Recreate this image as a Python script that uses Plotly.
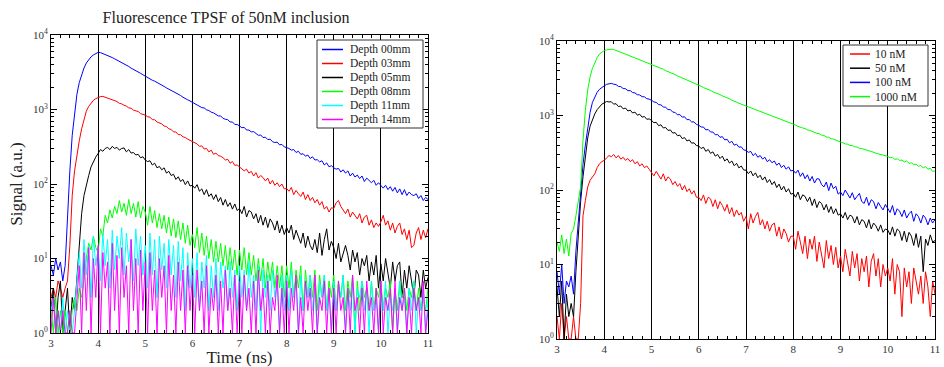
import plotly.graph_objects as go

# ---------------- data ----------------
# time axis: 3.00 .. 11.00 ns, 0.05 ns steps
time_ns = [round(3 + 0.05 * i, 2) for i in range(161)]

# Left panel: fluorescence TPSF of 50nM inclusion at several depths
depth_labels = ["Depth 00mm", "Depth 03mm", "Depth 05mm", "Depth 08mm", "Depth 11mm", "Depth 14mm"]

depth_00 = [
    8, 6, 10, 7, 9, 5, 8, 40, 150, 450, 900, 1600, 2300, 3000, 3600, 4200, 4700, 5100, 5400, 5650,
    5850, 5800, 5640, 5530, 5330, 5180, 4980, 4790, 4620, 4440, 4280, 4080, 3920, 3780, 3590, 3470, 3300, 3180, 3060, 2930,
    2800, 2700, 2600, 2470, 2400, 2290, 2210, 2100, 2040, 1950, 1880, 1790, 1740, 1650, 1600, 1540, 1460, 1420, 1350, 1300,
    1250, 1210, 1150, 1130, 1060, 1050, 990, 970, 920, 900, 860, 820, 820, 760, 740, 730, 680, 680, 630, 630,
    600, 570, 575, 530, 530, 500, 505, 470, 450, 455, 420, 425, 395, 400, 370, 360, 365, 335, 340, 315,
    310, 300, 285, 290, 265, 275, 250, 255, 236, 245, 220, 232, 210, 212, 198, 205, 180, 192, 170, 176,
    165, 158, 162, 145, 155, 140, 150, 128, 140, 124, 132, 118, 128, 108, 120, 110, 104, 112, 96, 104,
    95, 88, 96, 84, 92, 80, 90, 76, 86, 72, 84, 70, 78, 72, 70, 74, 64, 70, 60, 66,
    62,
]
depth_03 = [
    3, 4, 3, 5, 4, 3, 4, 5, 15, 70, 150, 250, 380, 550, 750, 950, 1100, 1230, 1330, 1400,
    1450, 1490, 1500, 1460, 1440, 1400, 1360, 1300, 1280, 1210, 1190, 1140, 1110, 1050, 1040, 980, 960, 940, 880, 870,
    840, 800, 790, 730, 730, 680, 660, 640, 600, 590, 550, 540, 500, 500, 460, 460, 430, 420, 400, 385,
    370, 350, 345, 320, 325, 295, 300, 270, 285, 250, 260, 240, 236, 225, 210, 215, 190, 200, 178, 180,
    170, 162, 150, 158, 140, 148, 128, 142, 120, 130, 122, 110, 120, 100, 112, 96, 104, 92, 100, 86,
    87, 80, 90, 72, 82, 74, 68, 78, 62, 72, 60, 66, 56, 62, 52, 58, 46, 50, 42, 48,
    47, 56, 60, 50, 44, 40, 46, 36, 42, 38, 34, 40, 30, 36, 38, 28, 33, 26, 30, 27,
    31, 38, 28, 32, 24, 30, 22, 27, 30, 21, 25, 18, 24, 14, 15, 22, 26, 18, 24, 19,
    25,
]
depth_05 = [
    2, 4, 1, 3, 5, 1, 2, 4, 1, 3, 2, 6, 15, 40, 70, 100, 130, 170, 200, 230,
    257, 290, 275, 300, 310, 290, 320, 300, 310, 285, 300, 305, 270, 290, 260, 265, 245, 250, 225, 232,
    210, 200, 205, 180, 190, 165, 172, 155, 165, 140, 148, 130, 135, 115, 125, 108, 115, 98, 110, 94,
    96, 88, 98, 80, 86, 72, 84, 68, 74, 62, 72, 58, 66, 52, 62, 50, 56, 46, 54, 44,
    47, 40, 50, 36, 44, 42, 34, 40, 30, 38, 28, 36, 26, 34, 30, 24, 32, 22, 28, 21,
    26, 22, 28, 18, 24, 20, 16, 22, 14, 20, 15, 13, 18, 12, 22, 11, 18, 25, 13, 17,
    14, 10, 16, 9, 12, 15, 11, 7, 13, 9, 12, 6, 10, 8, 11, 5, 9, 6, 11, 4,
    8.5, 5, 10, 6, 4, 9, 5, 8, 9, 3, 7, 4, 8, 5, 3, 7, 6, 3, 7, 4,
    5.6,
]
depth_08 = [
    2, 1, 3, 1, 2, 1, 2, 1, 1, 2, 3, 2, 4, 3, 5, 10, 16, 13, 20, 14,
    12, 25, 20, 38, 30, 45, 35, 50, 40, 60, 42, 55, 38, 62, 40, 55, 36, 58, 35, 50,
    42, 28, 50, 30, 44, 26, 40, 25, 38, 22, 36, 20, 34, 19, 32, 18, 30, 16, 28, 15,
    21, 14, 26, 12, 22, 11, 20, 10, 18, 9, 17, 9, 16, 8, 15, 7, 14, 7, 13, 6,
    13, 7, 14, 6, 12, 6, 11, 5, 10, 5, 10, 4, 9, 5, 9, 4, 8, 4, 8, 3,
    8, 4, 9, 3, 7, 4, 8, 2, 7, 3, 6, 3, 7, 2, 6, 3, 6, 2, 5, 3,
    6, 2, 5, 3, 6, 2, 5, 3, 6, 1, 5, 2, 5, 3, 4, 2, 5, 2, 4, 3,
    5, 2, 4, 3, 5, 1, 4, 2, 5, 3, 4, 2, 4, 3, 5, 2, 4, 2, 3, 2,
    4,
]
depth_11 = [
    2, 3, 1, 2, 1, 3, 1, 2, 1, 1, 2, 5, 12, 4, 18, 6, 15, 3, 20, 8,
    14, 5, 22, 8, 18, 4, 24, 7, 20, 10, 26, 6, 22, 9, 18, 5, 25, 8, 20, 6,
    15, 4, 22, 6, 18, 3, 20, 7, 16, 4, 18, 6, 15, 3, 17, 5, 14, 2, 12, 4,
    10, 3, 12, 2, 9, 4, 11, 2, 8, 3, 10, 2, 9, 4, 8, 2, 9, 3, 7, 2,
    8, 3, 7, 2, 9, 3, 6, 2, 8, 1, 7, 3, 6, 2, 7, 3, 5, 1, 6, 2,
    6, 2, 7, 3, 5, 1, 6, 2, 5, 3, 6, 2, 4, 1, 5, 3, 6, 2, 4, 1,
    5, 2, 4, 3, 6, 1, 4, 2, 5, 1, 4, 3, 5, 2, 4, 1, 5, 2, 3, 1,
    4, 2, 5, 1, 3, 2, 4, 1, 5, 2, 3, 1, 4, 2, 5, 1, 3, 2, 4, 1,
    3,
]
depth_14 = [
    1, 3, 1, 2, 1, 2, 1, 1, 2, 1, 1, 3, 8, 1, 12, 2, 14, 1, 10, 3,
    15, 1, 12, 4, 9, 1, 16, 2, 11, 1, 14, 3, 8, 1, 18, 2, 10, 1, 13, 2,
    9, 1, 12, 2, 7, 1, 10, 3, 8, 1, 11, 2, 6, 1, 9, 2, 7, 1, 8, 2,
    6, 1, 7, 2, 5, 1, 8, 1, 4, 2, 6, 1, 5, 1, 7, 2, 4, 1, 6, 1,
    5, 1, 6, 2, 4, 1, 5, 1, 7, 2, 4, 1, 5, 1, 3, 2, 6, 1, 4, 1,
    5, 1, 4, 2, 6, 1, 3, 1, 5, 2, 4, 1, 6, 1, 3, 2, 5, 1, 4, 1,
    4, 1, 5, 2, 3, 1, 4, 1, 6, 2, 3, 1, 4, 1, 5, 2, 3, 1, 4, 1,
    5, 1, 3, 2, 4, 1, 5, 1, 3, 2, 4, 1, 3, 1, 4, 2, 3, 1, 5, 1,
    2,
]

# Right panel: concentration series
conc_labels = ["10 nM", "50 nM", "100 nM", "1000 nM"]

conc_10 = [
    2, 1, 3, 1, 2, 1, 1, 2, 1, 1, 3, 45, 72, 110, 135, 150, 165, 200, 225, 240,
    250, 270, 290, 280, 300, 270, 290, 260, 275, 250, 265, 240, 255, 225, 240, 210, 225, 200, 210, 190,
    174, 155, 178, 160, 140, 165, 132, 150, 140, 118, 130, 112, 122, 100, 115, 95, 104, 88, 98, 80,
    80, 72, 86, 66, 80, 76, 60, 74, 56, 70, 62, 52, 64, 48, 58, 44, 54, 46, 50, 38,
    44, 30, 48, 36, 44, 50, 34, 40, 30, 38, 28, 34, 36, 24, 32, 22, 30, 26, 20, 24,
    24, 16, 28, 20, 14, 24, 12, 22, 16, 24, 11, 20, 14, 9, 21, 12, 18, 10, 17, 9,
    13, 8, 16, 10, 7, 15, 9, 14, 6, 12, 8, 13, 5, 11, 14, 7, 12, 5, 10, 7,
    9, 6, 12, 4, 10, 8, 2, 9, 5, 8, 3, 9, 6, 4, 7, 3, 8, 5, 2, 6,
    4,
]
conc_50 = [
    5, 2, 6, 1, 4, 2, 3, 2, 8, 25, 70, 150, 280, 500, 720, 900, 1050, 1200, 1320, 1420,
    1480, 1540, 1520, 1530, 1420, 1440, 1320, 1340, 1230, 1260, 1150, 1180, 1080, 1110, 1010, 1040, 950, 970, 890, 900,
    860, 800, 810, 730, 750, 680, 690, 630, 640, 580, 590, 535, 545, 490, 505, 455, 470, 425, 430, 395,
    390, 360, 375, 330, 350, 310, 325, 285, 300, 265, 285, 245, 262, 230, 245, 212, 228, 198, 210, 186,
    184, 166, 180, 155, 170, 146, 158, 136, 150, 126, 138, 118, 130, 108, 120, 100, 112, 94, 104, 88,
    90, 80, 94, 74, 86, 82, 70, 80, 62, 76, 58, 70, 66, 54, 64, 50, 60, 48, 56, 46,
    48, 42, 50, 40, 46, 44, 36, 44, 34, 40, 38, 31, 40, 30, 36, 33, 28, 34, 27, 30,
    29, 25, 32, 24, 30, 28, 21, 28, 20, 27, 24, 18, 26, 17, 24, 8, 22, 18, 25, 20,
    21,
]
conc_100 = [
    8, 4, 10, 3, 6, 5, 7, 4, 15, 40, 100, 220, 400, 700, 1100, 1500, 1800, 2050, 2250, 2400,
    2500, 2620, 2640, 2700, 2630, 2600, 2460, 2440, 2300, 2290, 2150, 2160, 2030, 2010, 1900, 1890, 1790, 1780, 1680, 1660,
    1600, 1520, 1500, 1400, 1390, 1300, 1290, 1200, 1200, 1110, 1100, 1020, 1030, 950, 960, 880, 880, 820, 820, 760,
    740, 700, 700, 640, 650, 600, 600, 550, 555, 510, 520, 470, 480, 430, 450, 400, 412, 375, 380, 345,
    340, 320, 330, 290, 310, 275, 290, 260, 275, 240, 255, 232, 245, 215, 230, 200, 215, 190, 205, 180,
    184, 168, 185, 152, 170, 142, 160, 132, 152, 124, 142, 140, 118, 110, 128, 98, 124, 104, 112, 88,
    94, 84, 100, 88, 78, 92, 74, 82, 90, 70, 66, 80, 62, 74, 70, 56, 68, 60, 54, 64,
    56, 50, 62, 46, 56, 52, 44, 54, 42, 48, 52, 38, 48, 44, 36, 46, 42, 34, 42, 36,
    40,
]
conc_1000 = [
    20, 15, 25, 14, 22, 13, 26, 30, 45, 70, 110, 460, 1170, 2200, 3300, 4300, 5200, 6000, 6700, 7100,
    7450, 7600, 7700, 7750, 7700, 7480, 7300, 7050, 6900, 6650, 6500, 6280, 6150, 5930, 5800, 5600, 5480, 5300, 5180, 5000,
    4900, 4760, 4580, 4460, 4290, 4180, 4000, 3900, 3760, 3640, 3540, 3400, 3300, 3180, 3100, 2990, 2900, 2790, 2720, 2620,
    2540, 2470, 2370, 2310, 2220, 2170, 2080, 2030, 1950, 1910, 1830, 1790, 1720, 1680, 1600, 1570, 1510, 1460, 1420, 1370,
    1330, 1300, 1250, 1240, 1180, 1170, 1120, 1110, 1060, 1050, 1000, 990, 950, 935, 900, 880, 850, 835, 805, 790,
    762, 745, 715, 705, 680, 668, 640, 632, 610, 598, 575, 570, 545, 540, 515, 510, 488, 482, 465, 455,
    440, 432, 415, 412, 396, 395, 380, 378, 362, 360, 350, 342, 335, 330, 318, 312, 305, 300, 292, 288,
    283, 270, 275, 258, 262, 250, 252, 238, 245, 228, 232, 220, 222, 208, 214, 198, 206, 190, 196, 178,
    180,
]

x_ticks = [3, 4, 5, 6, 7, 8, 9, 10, 11]
y_tickvals = [1, 10, 100, 1000, 10000]
y_ticktext = ["10<sup>0</sup>", "10<sup>1</sup>", "10<sup>2</sup>", "10<sup>3</sup>", "10<sup>4</sup>"]

# ---------------- styling ----------------
W, H = 944, 367
FONT = "Liberation Serif, Times New Roman, serif"
left_series = [depth_00, depth_03, depth_05, depth_08, depth_11, depth_14]
left_colors = ["#0000ff", "#ff0000", "#000000", "#00ff00", "#00ffff", "#ff00ff"]
right_series = [conc_10, conc_50, conc_100, conc_1000]
right_colors = ["#ff0000", "#000000", "#0000ff", "#00ff00"]


def px_x(x):
    return x / W


def px_y(y):
    return 1 - y / H


fig = go.Figure()

for name, ys, col in zip(depth_labels, left_series, left_colors):
    fig.add_trace(go.Scatter(x=time_ns, y=ys, mode="lines", name=name,
                             line=dict(color=col, width=1), xaxis="x", yaxis="y",
                             showlegend=False))

for name, ys, col in zip(conc_labels, right_series, right_colors):
    fig.add_trace(go.Scatter(x=time_ns, y=ys, mode="lines", name=name,
                             line=dict(color=col, width=1), xaxis="x2", yaxis="y2",
                             showlegend=False))

minor_y = [m * 10 ** d for d in range(4) for m in range(2, 10)]

xaxis_common = dict(
    range=[3, 11], tickvals=x_ticks, ticks="inside", ticklen=5, tickcolor="black",
    showline=True, linecolor="black", linewidth=1, mirror="allticks",
    showgrid=True, gridcolor="black", gridwidth=1, zeroline=False, automargin=False,
    tickfont=dict(family=FONT, size=11, color="#333333"),
    minor=dict(dtick=0.2, ticks="inside", ticklen=3, tickcolor="black", showgrid=False),
)
yaxis_common = dict(
    type="log", range=[0, 4], tickvals=y_tickvals, ticktext=y_ticktext,
    ticks="inside", ticklen=6, tickcolor="black",
    showline=True, linecolor="black", linewidth=1, mirror="allticks",
    showgrid=False, zeroline=False, automargin=False,
    tickfont=dict(family=FONT, size=11, color="#333333"),
    minor=dict(tickvals=minor_y, ticks="inside", ticklen=3, tickcolor="black", showgrid=False),
)

fig.update_layout(
    width=W, height=H,
    margin=dict(l=0, r=0, t=0, b=0, autoexpand=False),
    paper_bgcolor="white", plot_bgcolor="white",
    font=dict(family=FONT, color="black"),
    showlegend=False,
    xaxis=dict(xaxis_common, domain=[px_x(51), px_x(428)], anchor="y",
               title=dict(text="Time (ns)", font=dict(family=FONT, size=17, color="#222222"), standoff=0)),
    yaxis=dict(yaxis_common, domain=[px_y(333), px_y(35)], anchor="x",
               title=dict(text="Signal (a.u.)", font=dict(family=FONT, size=17, color="#222222"), standoff=6)),
    xaxis2=dict(xaxis_common, domain=[px_x(557), px_x(935)], anchor="y2"),
    yaxis2=dict(yaxis_common, domain=[px_y(339), px_y(41)], anchor="x2"),
    title=dict(text="Fluorescence TPSF of 50nM inclusion", x=px_x(226), y=px_y(17),
               xanchor="center", yanchor="middle", automargin=False,
               font=dict(family=FONT, size=16, color="#222222")),
)

# manual legends (compact, like the original)
shapes = []
annotations = []


def add_legend(box, entries, colors, line_x, text_x, y0, dy):
    x0, y_top, x1, y_bot = box
    shapes.append(dict(type="rect", xref="paper", yref="paper",
                       x0=px_x(x0), x1=px_x(x1), y0=px_y(y_bot), y1=px_y(y_top),
                       line=dict(color="#333333", width=1), fillcolor="white", layer="above"))
    for i, (lab, col) in enumerate(zip(entries, colors)):
        yy = y0 + i * dy
        shapes.append(dict(type="line", xref="paper", yref="paper",
                           x0=px_x(line_x[0]), x1=px_x(line_x[1]), y0=px_y(yy), y1=px_y(yy),
                           line=dict(color=col, width=1.5), layer="above"))
        annotations.append(dict(xref="paper", yref="paper", x=px_x(text_x), y=px_y(yy),
                                text=lab, showarrow=False, xanchor="left", yanchor="middle",
                                font=dict(family=FONT, size=11.5, color="#222222")))


add_legend((317, 40, 423, 128), depth_labels, left_colors, (322, 343), 348, 49.5, 14)
add_legend((843, 45, 928, 106), conc_labels, right_colors, (850, 870), 873, 54, 14.2)

fig.update_layout(shapes=shapes, annotations=annotations)

fig.write_html("out.html", config={"displayModeBar": False},
               post_script="document.body.style.margin='0';")
